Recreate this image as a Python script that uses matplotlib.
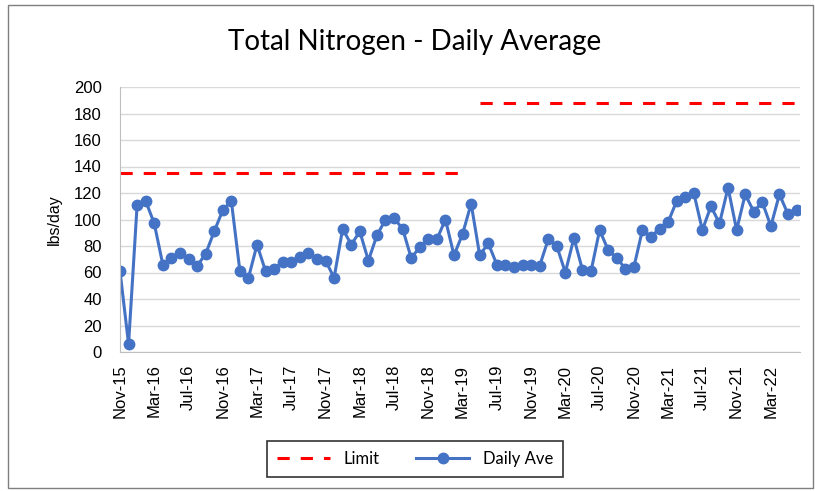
# Total Nitrogen - Daily Average (monthly, Nov-15 .. Jun-22)
import matplotlib
matplotlib.use('Agg')
import matplotlib.pyplot as plt
import numpy as np

# tick labels every 4 months
tick_labels = ['Nov-15', 'Mar-16', 'Jul-16', 'Nov-16', 'Mar-17', 'Jul-17', 'Nov-17',
               'Mar-18', 'Jul-18', 'Nov-18', 'Mar-19', 'Jul-19', 'Nov-19', 'Mar-20',
               'Jul-20', 'Nov-20', 'Mar-21', 'Jul-21', 'Nov-21', 'Mar-22']

# daily average, lbs/day (one value per month)
daily_ave = [61, 6, 111, 114, 97, 66, 71, 75, 70, 65,
             74, 91, 107, 114, 61, 56, 81, 61, 63, 68,
             68, 72, 75, 70, 69, 56, 93, 81, 91, 69,
             88, 100, 101, 93, 71, 79, 85, 85, 100, 73,
             89, 112, 73, 82, 66, 66, 64, 66, 66, 65,
             85, 80, 60, 86, 62, 61, 92, 77, 71, 63,
             64, 92, 87, 93, 98, 114, 117, 120, 92, 110,
             97, 124, 92, 119, 106, 113, 95, 119, 104, 107]

# permit limit (old limit up to Mar-19, new limit from May-19)
limit_old = 135
limit_new = 188
n = len(daily_ave)
limit = [limit_old] * 41 + [np.nan] + [limit_new] * (n - 42)

x = np.arange(n)

fig = plt.figure(figsize=(8.15, 4.91), dpi=100)
ax = fig.add_axes([120/815, 1 - 352/491, 680/815, 265/491])

ax.plot(x, limit, color='#FF0000', lw=2.2, dashes=(4, 3.6), label='Limit')
ax.plot(x, daily_ave, color='#4472C4', lw=2.2, marker='o', ms=7.5, label='Daily Ave')

ax.set_xlim(0, n - 0.6)
ax.set_ylim(0, 200)
ax.set_yticks(range(0, 201, 20))
ax.set_xticks(x[::4][:len(tick_labels)])
ax.set_xticklabels(tick_labels, rotation=90, fontsize=12, family='Liberation Sans')
ax.tick_params(axis='y', labelsize=12, length=0, pad=13)
ax.tick_params(axis='x', length=0, pad=9)
for lab in ax.get_yticklabels():
    lab.set_family('Liberation Sans')

ax.grid(axis='y', color='#D9D9D9', lw=1)
ax.set_axisbelow(True)
for s in ['top', 'right']:
    ax.spines[s].set_visible(False)
for s in ['left', 'bottom']:
    ax.spines[s].set_color('#BFBFBF')

ax.set_ylabel('lbs/day', fontsize=11.5, family='Liberation Sans', labelpad=9)

fig.text(0.509, 0.914, 'Total Nitrogen - Daily Average', ha='center', va='center',
         fontsize=20, family='Lato')

leg = fig.legend(loc='center', bbox_to_anchor=(415/815, 1 - 459/491), ncol=2,
                 frameon=True, fancybox=False, prop={'family': 'Lato', 'size': 12},
                 handlelength=3.2, columnspacing=2.2, borderpad=0.6)
leg.get_frame().set_edgecolor('black')
leg.get_frame().set_linewidth(1.2)

# chart outer border
fig.patches.append(plt.Rectangle((8/815, 3/491), 805/815, 483/491, transform=fig.transFigure,
                                 fill=False, edgecolor='#7F7F7F', lw=1))

fig.savefig('out.png', dpi=100)
